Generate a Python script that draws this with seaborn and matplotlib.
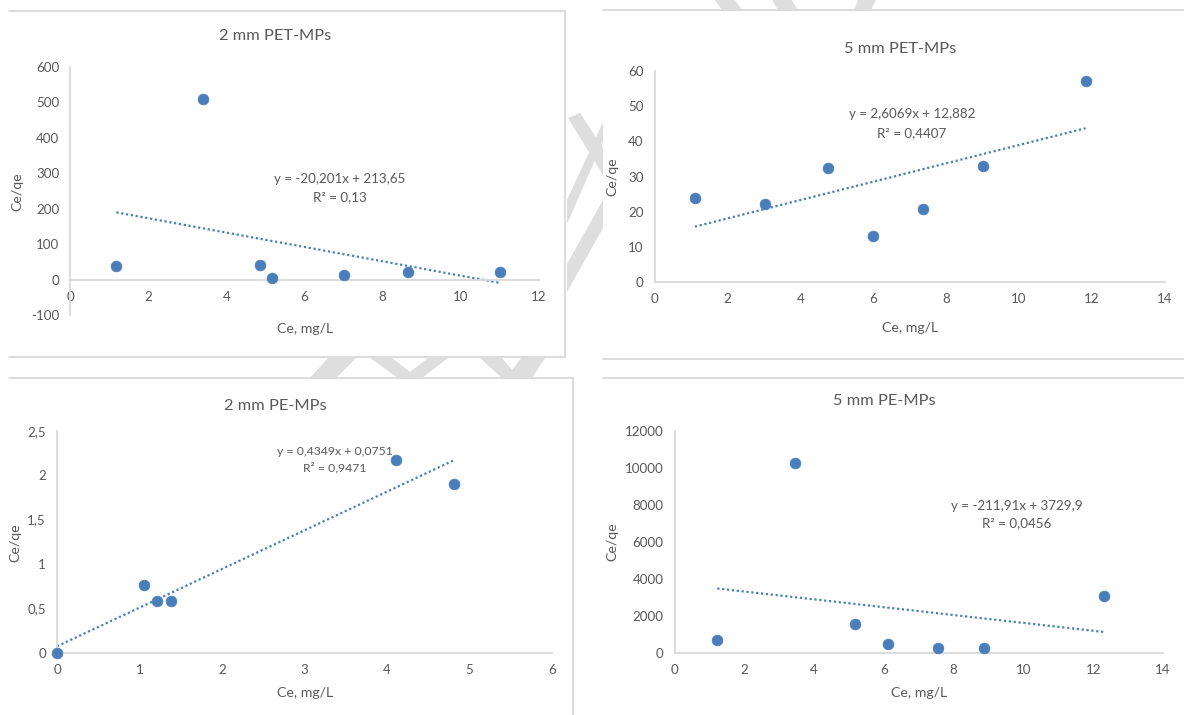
import numpy as np
import matplotlib.pyplot as plt
import seaborn as sns
from matplotlib.lines import Line2D
from matplotlib.patches import Polygon
from matplotlib.ticker import FuncFormatter, MultipleLocator

ce_pet2 = [1.18, 3.41, 4.86, 5.18, 7.02, 8.66, 11.01]
ceqe_pet2 = [39, 510, 43, 6, 14, 21, 21]

ce_pet5 = [1.10, 3.02, 4.76, 5.98, 7.37, 9.02, 11.83]
ceqe_pet5 = [23.9, 22.1, 32.5, 13.0, 20.9, 32.9, 57.2]

ce_pe2 = [0.0, 1.06, 1.21, 1.38, 4.11, 4.81]
ceqe_pe2 = [0.0, 0.76, 0.59, 0.59, 2.17, 1.90]

ce_pe5 = [1.22, 3.44, 5.17, 6.12, 7.55, 8.88, 12.31]
ceqe_pe5 = [685, 10270, 1530, 450, 250, 250, 3045]

titulos = ["2 mm PET-MPs", "5 mm PET-MPs", "2 mm PE-MPs", "5 mm PE-MPs"]
inclinacoes = [-20.201, 2.6069, 0.4349, -211.91]
interceptos = [213.65, 12.882, 0.0751, 3729.9]
equacoes = ["y = -20,201x + 213,65", "y = 2,6069x + 12,882",
            "y = 0,4349x + 0,0751", "y = -211,91x + 3729,9"]
r2_textos = ["R² = 0,13", "R² = 0,4407", "R² = 0,9471", "R² = 0,0456"]

W, H = 1184, 715
AZUL = "#4a7ebb"
CINZA_TEXTO = "#595959"
CINZA_LINHA = "#d9d9d9"

sns.set_style("white")
plt.rcParams["font.family"] = ["Lato", "DejaVu Sans"]


def fx(px):
    return px / W


def fy(py):
    return 1 - py / H


def formato_virgula(v, pos):
    return f"{v:g}".replace(".", ",")


fig = plt.figure(figsize=(W / 100, H / 100), dpi=100)

# marca d'água: só os pedaços visíveis entre os painéis
marca = [
    [(568, 118), (580, 113), (603, 148), (603, 175)],
    [(603, 122), (603, 142), (567, 224), (567, 200)],
    [(603, 200), (603, 228), (567, 292), (567, 264)],
    [(310, 378), (336, 378), (356, 358), (328, 358)],
    [(370, 358), (392, 358), (410, 372), (428, 358), (448, 358), (422, 378), (398, 378)],
    [(480, 358), (502, 358), (512, 370), (521, 358), (545, 358), (532, 378), (502, 378)],
    [(715, 0), (735, 0), (742, 10), (722, 10)],
    [(772, 0), (792, 0), (798, 10), (778, 10)],
    [(858, 0), (876, 0), (871, 10), (854, 10)],
]
for pts in marca:
    fig.add_artist(Polygon([(fx(a), fy(b)) for a, b in pts], closed=True,
                           transform=fig.transFigure, facecolor="#dedede",
                           edgecolor="none", zorder=0))

bordas = [
    ((9, 11), (565, 11)), ((565, 11), (565, 357)), ((9, 357), (565, 357)),
    ((603, 10), (1184, 10)), ((603, 359), (1184, 359)),
    ((9, 378), (573, 378)), ((573, 378), (573, 715)),
    ((603, 378), (1184, 378)),
]
for (xa, ya), (xb, yb) in bordas:
    fig.add_artist(Line2D([fx(xa), fx(xb)], [fy(ya), fy(yb)], color=CINZA_LINHA,
                          lw=1.3, zorder=2))

graficos = [
    dict(x=ce_pet2, y=ceqe_pet2, px=(70.3, 538.7), py=(66.7, 315.3),
         xlim=(0, 12), ylim=(-100, 600), xstep=2, ystep=100,
         titulo=(275, 36), xlab=(305, 329), ylab=(17, 192), eq=(340, 179), r2=(340, 197), fs_eq=9.6),
    dict(x=ce_pet5, y=ceqe_pet5, px=(654.8, 1164.6), py=(71, 282),
         xlim=(0, 14), ylim=(0, 60), xstep=2, ystep=10,
         titulo=(900, 49), xlab=(910, 328), ylab=(612, 177), eq=(912, 114), r2=(912, 133), fs_eq=9.6),
    dict(x=ce_pe2, y=ceqe_pe2, px=(57, 552), py=(430.7, 653),
         xlim=(0, 6), ylim=(0, 2.5), xstep=1, ystep=0.5,
         titulo=(275, 406), xlab=(305, 693), ylab=(15, 543), eq=(335, 452), r2=(335, 468), fs_eq=8.8),
    dict(x=ce_pe5, y=ceqe_pe5, px=(674.7, 1163), py=(430.7, 652.7),
         xlim=(0, 14), ylim=(0, 12000), xstep=2, ystep=2000,
         titulo=(884, 401), xlab=(919, 693), ylab=(612, 542), eq=(1017, 506), r2=(1017, 523), fs_eq=9.6),
]

for i, g in enumerate(graficos):
    (x0, x1), (yt, yb) = g["px"], g["py"]
    ax = fig.add_axes([fx(x0), fy(yb), (x1 - x0) / W, (yb - yt) / H], zorder=3)
    ax.set_facecolor("none")
    ax.set_xlim(*g["xlim"])
    ax.set_ylim(*g["ylim"])

    # linha de tendência linear (coeficientes do Excel)
    xs = np.array([min(g["x"]), max(g["x"])])
    ax.plot(xs, inclinacoes[i] * xs + interceptos[i], linestyle=(0, (1, 1.2)),
            color=AZUL, lw=1.6, zorder=2)
    sns.scatterplot(x=g["x"], y=g["y"], ax=ax, color=AZUL, s=60,
                    edgecolor=AZUL, linewidth=0.5, zorder=3, clip_on=False)

    ax.xaxis.set_major_locator(MultipleLocator(g["xstep"]))
    ax.yaxis.set_major_locator(MultipleLocator(g["ystep"]))
    ax.xaxis.set_major_formatter(FuncFormatter(formato_virgula))
    ax.yaxis.set_major_formatter(FuncFormatter(formato_virgula))
    ax.tick_params(axis="both", length=0, labelsize=9.6, labelcolor=CINZA_TEXTO)
    ax.tick_params(axis="x", pad=8)
    ax.tick_params(axis="y", pad=8)
    for lado in ["top", "right"]:
        ax.spines[lado].set_visible(False)
    ax.spines["bottom"].set_position(("data", 0))
    for lado in ["left", "bottom"]:
        ax.spines[lado].set_color(CINZA_LINHA)
        ax.spines[lado].set_linewidth(1.3)
    ax.set_xlabel("")
    ax.set_ylabel("")

    fig.text(fx(g["titulo"][0]), fy(g["titulo"][1]), titulos[i], ha="center", va="center",
             fontsize=11.8, color=CINZA_TEXTO, zorder=4)
    fig.text(fx(g["xlab"][0]), fy(g["xlab"][1]), "Ce, mg/L", ha="center", va="center",
             fontsize=10.2, color=CINZA_TEXTO, zorder=4)
    fig.text(fx(g["ylab"][0]), fy(g["ylab"][1]), "Ce/qe", ha="center", va="center",
             rotation=90, fontsize=10.2, color=CINZA_TEXTO, zorder=4)
    fig.text(fx(g["eq"][0]), fy(g["eq"][1]), equacoes[i], ha="center", va="center",
             fontsize=g["fs_eq"], color=CINZA_TEXTO, zorder=4)
    fig.text(fx(g["r2"][0]), fy(g["r2"][1]), r2_textos[i], ha="center", va="center",
             fontsize=g["fs_eq"], color=CINZA_TEXTO, zorder=4)

fig.savefig("out.png", dpi=100)
